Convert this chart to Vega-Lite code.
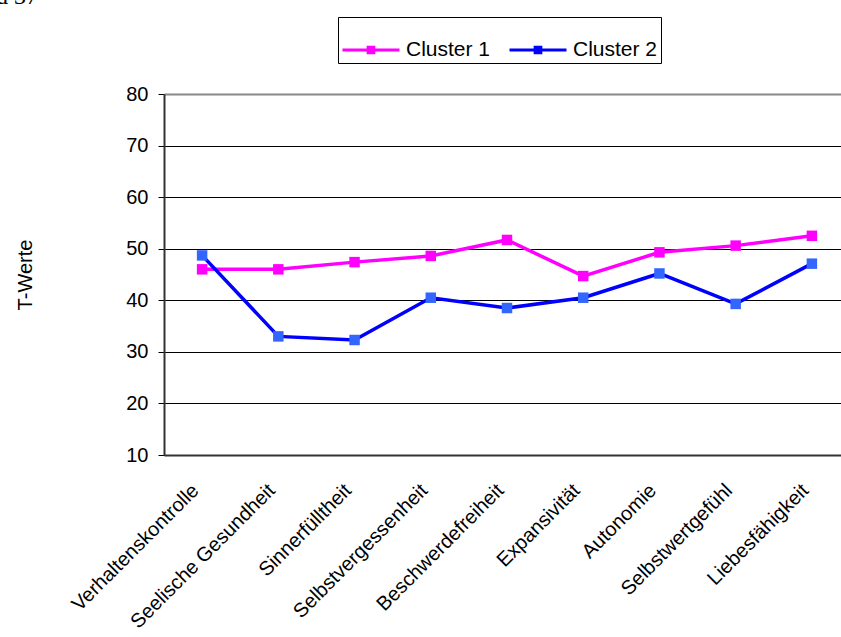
{
  "$schema": "https://vega.github.io/schema/vega-lite/v6.json",
  "width": 686,
  "height": 361,
  "autosize": "none",
  "padding": {"left": 164, "top": 94, "right": 0, "bottom": 182},
  "background": "white",
  "title": {
    "text": "d 37",
    "anchor": "start",
    "frame": "group",
    "dx": -168,
    "dy": 16,
    "offset": 0,
    "font": "Liberation Serif",
    "fontSize": 24,
    "fontWeight": "normal",
    "color": "black",
    "baseline": "bottom"
  },
  "config": {
    "view": {"stroke": null},
    "font": "Liberation Sans"
  },
  "data": {
    "values": [
      {"kategorie": "Verhaltenskontrolle", "cluster": "Cluster 1", "wert": 46.0},
      {"kategorie": "Seelische Gesundheit", "cluster": "Cluster 1", "wert": 46.0},
      {"kategorie": "Sinnerfülltheit", "cluster": "Cluster 1", "wert": 47.4},
      {"kategorie": "Selbstvergessenheit", "cluster": "Cluster 1", "wert": 48.6},
      {"kategorie": "Beschwerdefreiheit", "cluster": "Cluster 1", "wert": 51.7},
      {"kategorie": "Expansivität", "cluster": "Cluster 1", "wert": 44.7},
      {"kategorie": "Autonomie", "cluster": "Cluster 1", "wert": 49.3},
      {"kategorie": "Selbstwertgefühl", "cluster": "Cluster 1", "wert": 50.6},
      {"kategorie": "Liebesfähigkeit", "cluster": "Cluster 1", "wert": 52.5},
      {"kategorie": "Verhaltenskontrolle", "cluster": "Cluster 2", "wert": 48.7},
      {"kategorie": "Seelische Gesundheit", "cluster": "Cluster 2", "wert": 33.0},
      {"kategorie": "Sinnerfülltheit", "cluster": "Cluster 2", "wert": 32.3},
      {"kategorie": "Selbstvergessenheit", "cluster": "Cluster 2", "wert": 40.5},
      {"kategorie": "Beschwerdefreiheit", "cluster": "Cluster 2", "wert": 38.5},
      {"kategorie": "Expansivität", "cluster": "Cluster 2", "wert": 40.5},
      {"kategorie": "Autonomie", "cluster": "Cluster 2", "wert": 45.2},
      {"kategorie": "Selbstwertgefühl", "cluster": "Cluster 2", "wert": 39.3},
      {"kategorie": "Liebesfähigkeit", "cluster": "Cluster 2", "wert": 47.1}
    ]
  },
  "encoding": {
    "x": {
      "field": "kategorie",
      "type": "nominal",
      "sort": null,
      "scale": {"type": "point", "padding": 0.5},
      "axis": {
        "title": null,
        "labelAngle": -45,
        "labelFontSize": 20,
        "labelColor": "black",
        "labelPadding": 25,
        "labelOffset": -14,
        "labelLimit": 0,
        "labelOverlap": false,
        "labelBound": false,
        "ticks": false,
        "domainColor": "#333333",
        "domainWidth": 2,
        "grid": false
      }
    },
    "y": {
      "field": "wert",
      "type": "quantitative",
      "scale": {"domain": [10, 80], "nice": false, "zero": false},
      "axis": {
        "title": "T-Werte",
        "titleFontSize": 20,
        "titleFontWeight": "normal",
        "titleColor": "black",
        "titlePadding": 90,
        "values": [10, 20, 30, 40, 50, 60, 70, 80],
        "labelFontSize": 20,
        "labelColor": "black",
        "labelPadding": 10,
        "tickSize": 6,
        "tickColor": "black",
        "domainColor": "#333333",
        "domainWidth": 2,
        "grid": true,
        "gridColor": {"condition": {"test": "datum.value === 80", "value": "#888888"}, "value": "black"},
        "gridWidth": {"condition": {"test": "datum.value === 80", "value": 2}, "value": 1},
        "gridOpacity": 1
      }
    }
  },
  "layer": [
    {
      "mark": {"type": "line", "strokeWidth": 3.5},
      "encoding": {
        "stroke": {
          "field": "cluster",
          "type": "nominal",
          "scale": {"domain": ["Cluster 1", "Cluster 2"], "range": ["#FF00FF", "#0000FF"]},
          "legend": {
            "title": null,
            "orient": "none",
            "legendX": 174,
            "legendY": -77,
            "direction": "horizontal",
            "columns": 2,
            "strokeColor": "black",
            "fillColor": "white",
            "padding": 3,
            "labelFontSize": 21,
            "labelColor": "black",
            "labelOffset": 5,
            "columnPadding": 12,
            "symbolType": "M-1,0L1,0M-0.1,-0.1L0.1,-0.1L0.1,0.1L-0.1,0.1Z",
            "symbolSize": 3249,
            "symbolStrokeWidth": 3
          }
        }
      }
    },
    {
      "mark": {"type": "point", "shape": "square", "filled": true, "size": 110, "opacity": 1},
      "encoding": {
        "fill": {
          "field": "cluster",
          "type": "nominal",
          "scale": {"domain": ["Cluster 1", "Cluster 2"], "range": ["#FF00FF", "#3366FF"]},
          "legend": {
            "title": null,
            "orient": "none",
            "legendX": 174,
            "legendY": -77,
            "direction": "horizontal",
            "columns": 2,
            "strokeColor": "black",
            "fillColor": "white",
            "padding": 3,
            "labelFontSize": 21,
            "labelColor": "black",
            "labelOffset": 5,
            "columnPadding": 12,
            "symbolType": "M-1,0L1,0M-0.1,-0.1L0.1,-0.1L0.1,0.1L-0.1,0.1Z",
            "symbolSize": 3249,
            "symbolStrokeWidth": 3
          }
        }
      }
    }
  ]
}
